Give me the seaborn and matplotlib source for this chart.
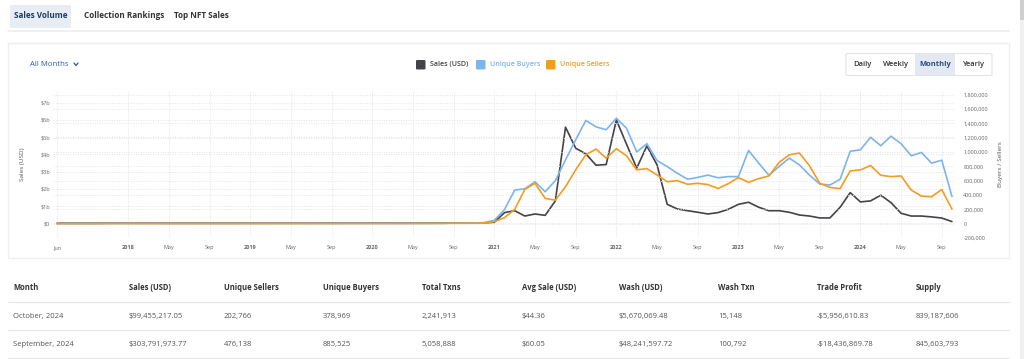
import numpy as np
import pandas as pd
import matplotlib
matplotlib.use("Agg")
import matplotlib.pyplot as plt
import seaborn as sns
from matplotlib.patches import FancyBboxPatch, Rectangle
from matplotlib.lines import Line2D

sns.set_theme(style="white")
plt.rcParams['font.family'] = ['Open Sans', 'DejaVu Sans']

# ---- data (monthly, Jun 2017 .. Oct 2024) ----
sales_bn = [
    0.001, 0.001, 0.001, 0.002, 0.002, 0.004, 0.003,
    0.003, 0.003, 0.003, 0.003, 0.003, 0.003, 0.003, 0.003, 0.003, 0.003, 0.003, 0.003,
    0.003, 0.004, 0.004, 0.004, 0.004, 0.004, 0.004, 0.004, 0.004, 0.004, 0.005, 0.005,
    0.005, 0.006, 0.006, 0.005, 0.005, 0.006, 0.008, 0.012, 0.020, 0.018, 0.015, 0.025,
    0.06, 0.62, 0.73, 0.42, 0.54, 0.46, 1.30, 5.58, 4.36, 4.03, 3.37, 3.41,
    6.00, 4.59, 3.20, 4.49, 3.39, 1.10, 0.83, 0.73, 0.64, 0.54, 0.62, 0.81,
    1.10, 1.22, 0.93, 0.73, 0.73, 0.64, 0.48, 0.42, 0.31, 0.31, 0.93, 1.78,
    1.24, 1.30, 1.63, 1.20, 0.58, 0.42, 0.42, 0.37, 0.304, 0.0995,
]
unique_buyers = [
    300, 400, 500, 700, 900, 2500, 3000,
    2800, 2500, 2300, 2200, 2200, 2100, 2100, 2000, 2000, 2100, 2200, 2200,
    2300, 2400, 2500, 2600, 2700, 2800, 2900, 3000, 3000, 3100, 3200, 3300,
    3400, 3600, 3700, 3600, 3800, 4000, 4500, 5500, 8000, 9000, 10000, 15000,
    47000, 197000, 468000, 487000, 585000, 445000, 600000, 890000, 1170000, 1440000, 1350000, 1310000,
    1470000, 1330000, 1000000, 1115000, 880000, 796000, 703000, 619000, 645000, 677000, 640000, 656000,
    656000, 1020000, 844000, 675000, 797000, 914000, 820000, 675000, 553000, 539000, 619000, 1010000,
    1030000, 1205000, 1087000, 1220000, 1115000, 947000, 993000, 844000, 885525, 378969,
]
unique_sellers = [
    200, 300, 400, 500, 600, 1500, 1800,
    1700, 1500, 1400, 1300, 1300, 1200, 1200, 1200, 1200, 1300, 1300, 1300,
    1400, 1400, 1500, 1500, 1600, 1700, 1700, 1800, 1800, 1900, 2000, 2000,
    2100, 2200, 2300, 2200, 2300, 2500, 2800, 3500, 5000, 5500, 6000, 9000,
    28000, 84000, 197000, 478000, 563000, 352000, 328000, 515000, 750000, 961000, 1040000, 914000,
    1045000, 947000, 750000, 768000, 679000, 585000, 600000, 549000, 563000, 545000, 490000, 557000,
    642000, 577000, 628000, 665000, 853000, 961000, 985000, 806000, 563000, 506000, 487000, 736000,
    750000, 811000, 675000, 656000, 665000, 469000, 384000, 375000, 476138, 202766,
]
months = pd.date_range("2017-06-01", periods=len(sales_bn), freq="MS")

table_columns = ["Month", "Sales (USD)", "Unique Sellers", "Unique Buyers", "Total Txns",
                 "Avg Sale (USD)", "Wash (USD)", "Wash Txn", "Trade Profit", "Supply"]
row_oct = ["October, 2024", "$99,455,217.05", "202,766", "378,969", "2,241,913",
           "$44.36", "$5,670,069.48", "15,148", "-$5,956,610.83", "839,187,606"]
row_sep = ["September, 2024", "$303,791,973.77", "476,138", "885,525", "5,058,888",
           "$60.05", "$48,241,597.72", "100,792", "-$18,436,869.78", "845,603,793"]

df = pd.DataFrame({"idx": np.arange(len(months)), "sales": sales_bn,
                   "buyers": unique_buyers, "sellers": unique_sellers})

C_SALES = "#434348"
C_BUY = "#7cb5ec"
C_SELL = "#f39c1f"
GRID = "#e4e4e4"
TICK = "#666666"

W, H = 1024, 359
fig = plt.figure(figsize=(W / 100, H / 100), dpi=100)
fig.patch.set_facecolor("white")


def fx(px):
    return px / W


def fy(py):
    return 1 - py / H


# ---- page chrome (kept behind the axes) ----
fig.add_artist(FancyBboxPatch((fx(10), fy(28)), fx(61), 23 / H, boxstyle="round,pad=0,rounding_size=0.003",
                              transform=fig.transFigure, fc="#e8edf5", ec="none", zorder=-5))
fig.text(fx(14), fy(16), "Sales Volume", fontsize=5.9, fontweight="bold", color="#1f3b64", va="center")
fig.text(fx(84), fy(16), "Collection Rankings", fontsize=5.9, fontweight="bold", color="#333333", va="center")
fig.text(fx(174), fy(16), "Top NFT Sales", fontsize=5.9, fontweight="bold", color="#333333", va="center")
fig.add_artist(Line2D([fx(8), fx(1009)], [fy(31), fy(31)], transform=fig.transFigure,
                      color="#eeeeee", lw=1.2, zorder=-5))

# card
fig.add_artist(Rectangle((fx(8), fy(258)), fx(1001), 215 / H, transform=fig.transFigure,
                         fc="white", ec="#efefef", lw=1.0, zorder=-10))
# right scrollbar strip
fig.add_artist(Rectangle((fx(1020), 0), fx(4), 1, transform=fig.transFigure, fc="#f1f1f1", ec="none", zorder=-10))
fig.add_artist(Rectangle((fx(1020), fy(20)), fx(4), 20 / H, transform=fig.transFigure, fc="#cfcfcf", ec="none", zorder=-9))

fig.text(fx(30), fy(64.5), "All Months", fontsize=5.6, color="#2a5ca8", va="center")
fig.add_artist(Line2D([fx(74), fx(76), fx(78)], [fy(63), fy(65.5), fy(63)], transform=fig.transFigure,
                      color="#2a5ca8", lw=0.9))

# legend
legend_items = [("Sales (USD)", C_SALES, "#444444", 416), ("Unique Buyers", C_BUY, C_BUY, 476),
                ("Unique Sellers", C_SELL, C_SELL, 546)]
for lab, col, tcol, x0 in legend_items:
    fig.add_artist(FancyBboxPatch((fx(x0), fy(69.5)), fx(9.5), 9.5 / H,
                                  boxstyle="round,pad=0,rounding_size=0.002",
                                  transform=fig.transFigure, fc=col, ec="none"))
    fig.text(fx(x0 + 14), fy(64.5), lab, fontsize=5.1, fontweight="semibold", color=tcol, va="center")

# period buttons
fig.add_artist(FancyBboxPatch((fx(846), fy(75.5)), fx(146), 22 / H, boxstyle="round,pad=0,rounding_size=0.003",
                              transform=fig.transFigure, fc="white", ec="#e3e3e3", lw=0.8, zorder=-4))
fig.add_artist(Rectangle((fx(915), fy(74.5)), fx(40), 20 / H, transform=fig.transFigure,
                         fc="#e3e9f3", ec="none", zorder=-3))
for lab, xc, bold, col in [("Daily", 862, False, "#333333"), ("Weekly", 896, False, "#333333"),
                           ("Monthly", 935, True, "#2b4c80"), ("Yearly", 973, False, "#333333")]:
    fig.text(fx(xc), fy(64.5), lab, fontsize=5.4, ha="center", va="center", color=col,
             fontweight="bold" if bold else "semibold")

# ---- chart ----
ax = fig.add_axes([fx(53), fy(238), fx(955 - 53), (238 - 91) / H])
ax2 = ax.twinx()
for a in (ax, ax2):
    a.set_facecolor("none")
    for s in a.spines.values():
        s.set_visible(False)
    a.tick_params(length=0, pad=2, labelsize=4, labelcolor=TICK)
ax2.tick_params(axis="y", pad=6)

sns.lineplot(data=df, x="idx", y="sales", ax=ax, color=C_SALES, linewidth=1.2)
sns.lineplot(data=df, x="idx", y="buyers", ax=ax2, color=C_BUY, linewidth=1.2)
sns.lineplot(data=df, x="idx", y="sellers", ax=ax2, color=C_SELL, linewidth=1.2)

ax.set_xlim(-0.4, len(months) - 0.7)
ax.set_ylim(-0.855, 7.68)
ax2.set_ylim(-200000, 1.85e6)

sales_ticks = list(range(0, 8))
ax.set_yticks(sales_ticks)
ax.set_yticklabels(["$0"] + [f"${t}b" for t in sales_ticks[1:]])
bs_ticks = list(range(-200000, 1800001, 200000))
ax2.set_yticks(bs_ticks)
ax2.set_yticklabels([f"{t:,}" for t in bs_ticks])

xt = [i for i, m in enumerate(months) if i == 0 or (m.year >= 2018 and m.month in (1, 5, 9))]
xl = []
for i in xt:
    m = months[i]
    if i != 0 and m.month == 1:
        xl.append(str(m.year))
    else:
        xl.append(m.strftime("%b"))
ax.set_xticks(xt)
ax.set_xticklabels(xl)
for t, m in zip(ax.get_xticklabels(), [months[i] for i in xt]):
    if m.month == 1:
        t.set_fontweight("bold")
ax.tick_params(axis="x", pad=5)

ax.grid(True, axis="both", color=GRID, linestyle=(0, (1, 1.5)), linewidth=0.7)
ax2.grid(True, axis="y", color=GRID, linestyle=(0, (1, 1.5)), linewidth=0.7)
ax.set_axisbelow(True)

ax.set_xlabel("")
ax.set_ylabel("Sales (USD)", fontsize=4.6, color="#555555", labelpad=11)
ax2.set_ylabel("Buyers / Sellers", fontsize=4.6, color="#555555", labelpad=7)

# ---- table ----
col_x = [13, 129, 224, 323, 422, 522, 619, 718, 817, 916]
for x, h in zip(col_x, table_columns):
    fig.text(fx(x), fy(287.5), h, fontsize=5.5, fontweight="bold", color="#333333", va="center")
for x, v in zip(col_x, row_oct):
    fig.text(fx(x), fy(316.5), v, fontsize=5.5, color="#555555", va="center")
for x, v in zip(col_x, row_sep):
    fig.text(fx(x), fy(344.5), v, fontsize=5.5, color="#555555", va="center")
for yy in (302, 330, 358):
    fig.add_artist(Line2D([fx(8), fx(1009)], [fy(yy), fy(yy)], transform=fig.transFigure,
                          color="#e6e6e6", lw=0.8))

fig.savefig("out.png", dpi=100, facecolor="white")
